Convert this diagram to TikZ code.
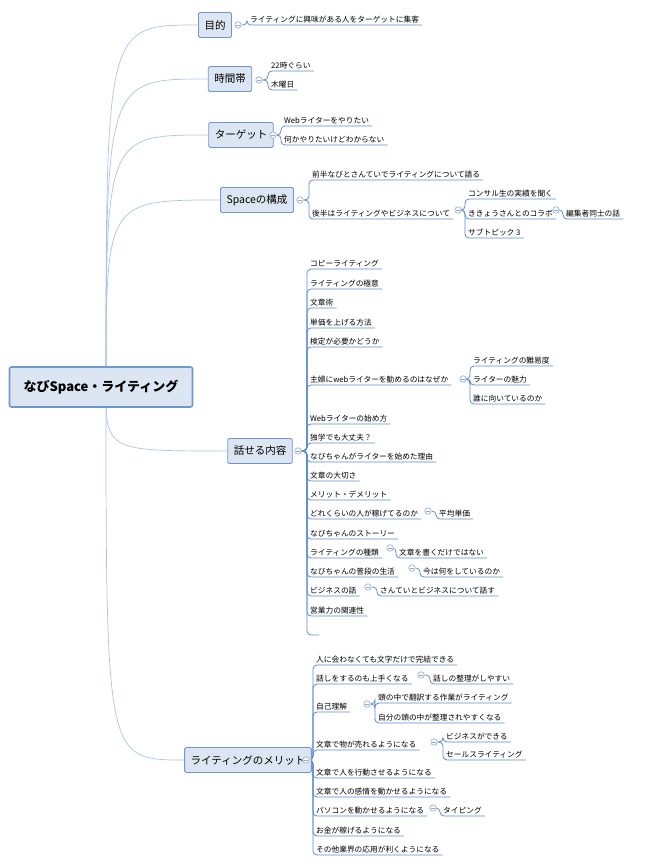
\documentclass[tikz,border=0pt]{standalone}
\usepackage{fontspec}
\setmainfont{Noto Sans CJK JP}
\usetikzlibrary{calc}
\usetikzlibrary{backgrounds}
\definecolor{boxfill}{HTML}{DCE6F2}
\definecolor{boxline}{HTML}{6F97CF}
\definecolor{uline}{HTML}{5B8BD0}
\definecolor{curve}{HTML}{A9C4E8}
\definecolor{foldc}{HTML}{8FA9D2}
\tikzset{
  root/.style={draw=boxline, line width=1.6pt, fill=boxfill, rounded corners=2pt,
    minimum width=183pt, minimum height=40pt, font=\fontsize{13}{15}\selectfont\bfseries},
  branch/.style={draw=boxline, line width=0.9pt, fill=boxfill, rounded corners=1.5pt,
    minimum height=25pt, inner xsep=6pt, font=\fontsize{10.5}{12}\selectfont},
  leaf/.style={anchor=south west, inner xsep=3pt, inner ysep=1.6pt,
    font=\fontsize{7.7}{8.5}\selectfont},
  fold/.style={circle, draw=foldc, line width=0.6pt, fill=white, minimum size=6.5pt, inner sep=0pt,
    path picture={\draw[foldc, line width=0.6pt] ($(path picture bounding box.center)+(-1.8pt,0)$) -- ($(path picture bounding box.center)+(1.8pt,0)$);}},
  link/.style={draw=uline, line width=0.8pt, rounded corners=4pt},
  main/.style={draw=curve, line width=0.7pt}
}
\newcommand{\hang}[2]{\begin{pgfonlayer}{background}\draw[link] (#1) -| (#2.south west) -- (#2.south east);\end{pgfonlayer}}
\begin{document}
\begin{tikzpicture}[x=1pt, y=-1pt]
  \useasboundingbox (0,0) rectangle (648,864);

  \node[root] (root) at (101,387) {なびSpace・ライティング};
  \coordinate (rc) at (106,387);

  \node[branch] (goal) at (215,25) {目的};
  \node[branch] (time) at (230,79) {時間帯};
  \node[branch] (tgt) at (241,135) {ターゲット};
  \node[branch] (plan) at (257,200) {Spaceの構成};
  \node[branch] (talk) at (260,451) {話せる内容};
  \node[branch] (merit) at (248,760) {ライティングのメリット};

  \begin{scope}[on background layer]
    \foreach \b in {goal,time,tgt,plan,talk,merit}
      \draw[main] (rc) .. controls (rc |- \b.west) .. (\b.west);
  \end{scope}

  % 目的
  \node[fold] (f1) at (238,25) {};
  \node[leaf] (g1) at (247,25) {ライティングに興味がある人をターゲットに集客\hspace{2pt}};
  \hang{f1}{g1}

  % 時間帯
  \node[fold] (f2) at (259,80) {};
  \node[leaf] (t1) at (268,71) {22時ぐらい\hspace{2pt}};
  \node[leaf] (t2) at (268,90) {木曜日\hspace{2pt}};
  \hang{f2}{t1} \hang{f2}{t2}

  % ターゲット
  \node[fold] (f3) at (273,135) {};
  \node[leaf] (a1) at (281,126) {Webライターをやりたい};
  \node[leaf] (a2) at (281,145) {何かやりたいけどわからない};
  \hang{f3}{a1} \hang{f3}{a2}

  % Spaceの構成
  \node[fold] (f4) at (300,200) {};
  \node[leaf] (p1) at (309,180) {前半なびとさんていでライティングについて語る};
  \node[leaf] (p2) at (309,219) {後半はライティングやビジネスについて};
  \hang{f4}{p1} \hang{f4}{p2}
  \node[fold] (f5) at (458,210) {};
  \node[leaf] (p3) at (465,199) {コンサル生の実績を聞く};
  \node[leaf] (p4) at (465,219) {ききょうさんとのコラボ};
  \node[leaf] (p5) at (465,238) {サブトピック 3\hspace{2pt}};
  \hang{f5}{p3} \hang{f5}{p4} \hang{f5}{p5}
  \node[fold] (f6) at (556,210) {};
  \node[leaf] (p6) at (563,219) {編集者同士の話\hspace{2pt}};
  \hang{f6}{p6}

  % 話せる内容
  \node[fold] (f7) at (298,451) {};
  \node[leaf] (k1) at (307,269) {コピーライティング};
  \node[leaf] (k2) at (307,289) {ライティングの極意};
  \node[leaf] (k3) at (307,308) {文章術};
  \node[leaf] (k4) at (307,328) {単価を上げる方法};
  \node[leaf] (k5) at (307,347) {検定が必要かどうか};
  \node[leaf] (k6) at (307,385) {主婦にwebライターを勧めるのはなぜか};
  \node[leaf] (k7) at (307,424) {Webライターの始め方};
  \node[leaf] (k8) at (307,443) {独学でも大丈夫？};
  \node[leaf] (k9) at (307,462) {なびちゃんがライターを始めた理由};
  \node[leaf] (k10) at (307,481) {文章の大切さ};
  \node[leaf] (k11) at (307,500) {メリット・デメリット};
  \node[leaf] (k12) at (307,519) {どれくらいの人が稼げてるのか};
  \node[leaf] (k13) at (307,539) {なびちゃんのストーリー};
  \node[leaf] (k14) at (307,558) {ライティングの種類};
  \node[leaf] (k15) at (307,577) {なびちゃんの普段の生活};
  \node[leaf] (k16) at (307,596) {ビジネスの話};
  \node[leaf] (k17) at (307,616) {営業力の関連性};
  \node[leaf, minimum width=12pt] (k18) at (307,635) {};
  \foreach \k in {1,...,18} {\hang{f7}{k\k}}

  \node[fold] (f8) at (463,379) {};
  \node[leaf] (w1) at (470,366) {ライティングの難易度};
  \node[leaf] (w2) at (470,385) {ライターの魅力\hspace{6pt}};
  \node[leaf] (w3) at (470,404) {誰に向いているのか};
  \hang{f8}{w1} \hang{f8}{w2} \hang{f8}{w3}
  \node[fold] (f9) at (428,511) {};
  \node[leaf] (x1) at (436,519) {平均単価\hspace{6pt}};
  \hang{f9}{x1}
  \node[fold] (f10) at (390,548) {};
  \node[leaf] (x2) at (396,558) {文章を書くだけではない};
  \hang{f10}{x2}
  \node[fold] (f11) at (412,568) {};
  \node[leaf] (x3) at (420,577) {今は何をしているのか};
  \hang{f11}{x3}
  \node[fold] (f12) at (368,587) {};
  \node[leaf] (x4) at (377,596) {さんていとビジネスについて話す};
  \hang{f12}{x4}

  % ライティングのメリット
  \node[fold] (f13) at (306,760) {};
  \node[leaf] (m1) at (313,665) {人に会わなくても文字だけで完結できる};
  \node[leaf] (m2) at (313,684) {話しをするのも上手くなる};
  \node[leaf] (m3) at (313,712) {自己理解\hspace{4pt}};
  \node[leaf] (m4) at (313,750) {文章で物が売れるようになる};
  \node[leaf] (m5) at (313,778) {文章で人を行動させるようになる};
  \node[leaf] (m6) at (313,797) {文章で人の感情を動かせるようになる};
  \node[leaf] (m7) at (313,816) {パソコンを動かせるようになる};
  \node[leaf] (m8) at (313,836) {お金が稼げるようになる};
  \node[leaf] (m9) at (313,855) {その他業界の応用が利くようになる};
  \foreach \k in {1,...,9} {\hang{f13}{m\k}}

  \node[fold] (f14) at (421,675) {};
  \node[leaf] (n1) at (430,684) {話しの整理がしやすい};
  \hang{f14}{n1}
  \node[fold] (f15) at (367,704) {};
  \node[leaf] (n2) at (375,703) {頭の中で翻訳する作業がライティング};
  \node[leaf] (n3) at (375,723) {自分の頭の中が整理されやすくなる};
  \hang{f15}{n2} \hang{f15}{n3}
  \node[fold] (f16) at (434,742) {};
  \node[leaf] (n4) at (443,742) {ビジネスができる};
  \node[leaf] (n5) at (443,760) {セールスライティング};
  \hang{f16}{n4} \hang{f16}{n5}
  \node[fold] (f17) at (433,808) {};
  \node[leaf] (n6) at (440,816) {タイピング\hspace{4pt}};
  \hang{f17}{n6}
\end{tikzpicture}
\end{document}
